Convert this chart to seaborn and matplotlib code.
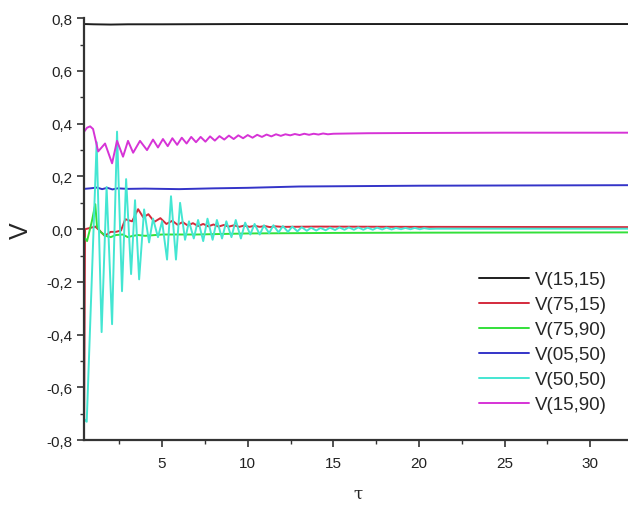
import matplotlib
matplotlib.use("Agg")
import matplotlib.pyplot as plt
from matplotlib.ticker import MultipleLocator, FuncFormatter
import seaborn as sns
import pandas as pd

# Values (tau, V)
x_black = [0.45, 1.0, 2.0, 3.0, 5.0, 10.0, 20.0, 32.2]
y_black = [0.778, 0.777, 0.776, 0.777, 0.777, 0.778, 0.778, 0.778]

x_red = [0.45, 0.5, 0.8, 1.1, 1.35, 1.65, 2.0, 2.3, 2.6, 2.85, 3.25, 3.6, 3.9, 4.2, 4.55,
         4.9, 5.25, 5.6, 5.9, 6.2, 6.5, 6.8, 7.1, 7.4, 7.7, 8.0, 8.3, 8.6, 8.9, 9.2, 9.5,
         9.8, 10.1, 10.4, 10.7, 11.0, 11.3, 11.6, 12.0, 14.0, 20.0, 32.2]
y_red = [-0.72, 0.0, 0.005, 0.01, -0.005, -0.025, -0.01, -0.01, -0.005, 0.038, 0.03, 0.076,
         0.045, 0.057, 0.028, 0.042, 0.02, 0.032, 0.017, 0.027, 0.014, 0.023, 0.012, 0.02,
         0.011, 0.018, 0.01, 0.016, 0.01, 0.015, 0.009, 0.014, 0.009, 0.013, 0.009, 0.012,
         0.008, 0.011, 0.009, 0.01, 0.009, 0.008]

x_green = [0.45, 0.62, 0.9, 1.1, 1.2, 1.4, 1.7, 2.0, 2.3, 2.7, 3.0, 3.3, 3.6, 4.0, 5.0,
           7.0, 10.0, 15.0, 20.0, 32.2]
y_green = [-0.03, -0.045, 0.03, 0.095, 0.01, -0.01, -0.025, -0.03, -0.022, -0.02, -0.03,
           -0.025, -0.022, -0.025, -0.02, -0.02, -0.016, -0.014, -0.013, -0.012]

x_blue = [0.45, 0.8, 1.2, 1.5, 1.8, 2.1, 2.4, 3.0, 4.0, 6.0, 8.0, 10.0, 13.0, 20.0, 32.2]
y_blue = [0.153, 0.155, 0.158, 0.152, 0.157, 0.151, 0.155, 0.153, 0.154, 0.152, 0.155,
          0.157, 0.162, 0.165, 0.167]

x_cyan = [0.45, 0.6, 1.18, 1.47, 1.76, 2.08, 2.37, 2.66, 2.9, 3.19, 3.42, 3.66, 3.95, 4.24,
          4.47, 4.76, 5.0, 5.29, 5.52, 5.81, 6.05, 6.34, 6.57, 6.85, 7.1, 7.4, 7.65, 7.95,
          8.2, 8.5, 8.75, 9.05, 9.3, 9.6, 9.85, 10.15, 10.4, 10.7, 10.95, 11.25, 11.5,
          11.8, 12.05, 12.35, 12.6, 12.9, 13.15, 13.45, 13.7, 14.0, 14.25, 14.55, 14.8,
          15.1, 15.35, 15.65, 15.9, 16.2, 16.45, 16.75, 17.0, 17.3, 17.55, 17.85, 18.1,
          18.4, 18.65, 18.95, 19.2, 19.5, 19.75, 20.05, 20.3, 20.6, 21.0, 25.0, 32.2]
y_cyan = [-0.72, -0.73, 0.33, -0.39, 0.16, -0.36, 0.37, -0.235, 0.19, -0.17, 0.11, -0.19,
          0.075, -0.05, 0.04, -0.03, 0.03, -0.115, 0.125, -0.115, 0.10, -0.04, 0.03, -0.035,
          0.035, -0.045, 0.04, -0.04, 0.035, -0.035, 0.03, -0.03, 0.035, -0.035, 0.025,
          -0.02, 0.02, -0.02, 0.015, -0.015, 0.015, -0.012, 0.012, -0.01, 0.01, -0.008,
          0.008, -0.006, 0.006, -0.005, 0.005, -0.004, 0.006, -0.003, 0.007, -0.002, 0.007,
          -0.002, 0.007, -0.002, 0.006, -0.002, 0.006, -0.001, 0.006, -0.001, 0.005, 0.0,
          0.005, 0.0, 0.005, 0.0, 0.004, 0.001, 0.002, 0.002, 0.002]

x_mag = [0.45, 0.62, 0.8, 0.97, 1.27, 1.67, 2.08, 2.37, 2.72, 3.01, 3.31, 3.71, 4.12, 4.47,
         4.76, 5.05, 5.33, 5.6, 5.88, 6.15, 6.43, 6.7, 6.98, 7.25, 7.53, 7.8, 8.08, 8.35,
         8.63, 8.9, 9.18, 9.45, 9.73, 10.0, 10.28, 10.55, 10.83, 11.1, 11.38, 11.65, 11.93,
         12.2, 12.48, 12.75, 13.03, 13.3, 13.58, 13.85, 14.13, 14.4, 14.68, 15.0, 17.0,
         20.0, 25.0, 32.2]
y_mag = [0.37, 0.385, 0.39, 0.38, 0.295, 0.325, 0.25, 0.335, 0.275, 0.335, 0.29, 0.335,
         0.30, 0.34, 0.31, 0.342, 0.315, 0.345, 0.32, 0.347, 0.325, 0.35, 0.33, 0.35, 0.332,
         0.352, 0.336, 0.353, 0.34, 0.355, 0.342, 0.356, 0.345, 0.357, 0.347, 0.358, 0.35,
         0.359, 0.352, 0.36, 0.354, 0.36, 0.356, 0.361, 0.357, 0.362, 0.358, 0.362, 0.359,
         0.363, 0.36, 0.362, 0.364, 0.365, 0.366, 0.366]

labels = ["V(15,15)", "V(75,15)", "V(75,90)", "V(05,50)", "V(50,50)", "V(15,90)"]
colors = ["#1e1e1e", "#d42a3c", "#33e03a", "#3434c8", "#44e6d2", "#d633d6"]
series = [(x_black, y_black), (x_red, y_red), (x_green, y_green),
          (x_blue, y_blue), (x_cyan, y_cyan), (x_mag, y_mag)]

sns.set_style("ticks")
plt.rcParams["font.family"] = ["Liberation Sans", "DejaVu Sans"]

fig = plt.figure(figsize=(6.28, 5.06), dpi=100)
ax = fig.add_axes([0.134, 0.128, 0.866, 0.834])

for (xs, ys), lab, col in zip(series, labels, colors):
    df = pd.DataFrame({"tau": xs, "V": ys})
    sns.lineplot(data=df, x="tau", y="V", ax=ax, color=col, linewidth=1.4,
                 label=lab, sort=False)

ax.set_xlim(0.45, 32.2)
ax.set_ylim(-0.8, 0.8)
ax.xaxis.set_major_locator(MultipleLocator(5))
ax.xaxis.set_minor_locator(MultipleLocator(2.5))
ax.yaxis.set_major_locator(MultipleLocator(0.2))
ax.yaxis.set_minor_locator(MultipleLocator(0.1))
ax.yaxis.set_major_formatter(FuncFormatter(lambda v, p: f"{v:.1f}".replace(".", ",").replace("-0,0", "0,0")))

ax.tick_params(which="major", direction="out", length=5, width=1.2, labelsize=11,
               color="#333333", labelcolor="#222222")
ax.tick_params(axis="x", which="major", pad=6)
ax.tick_params(which="minor", direction="out", length=3, width=1.0, color="#333333")
for s in ["top", "right"]:
    ax.spines[s].set_visible(False)
for s in ["left", "bottom"]:
    ax.spines[s].set_linewidth(1.6)
    ax.spines[s].set_color("#333333")

ax.set_xlabel("τ", fontsize=12, family=["DejaVu Serif"])
ax.set_ylabel("V", fontsize=18)
ax.xaxis.set_label_coords((358 - 84) / 544, -0.105)
ax.yaxis.set_label_coords(-0.095, 0.5)

leg = ax.legend(loc="upper left", bbox_to_anchor=(0.762, 0.462),
                bbox_transform=fig.transFigure, frameon=False, fontsize=13.5,
                handlelength=2.7, handletextpad=0.3, labelspacing=0.42,
                borderpad=0, borderaxespad=0)

fig.savefig("out.png", dpi=100)
